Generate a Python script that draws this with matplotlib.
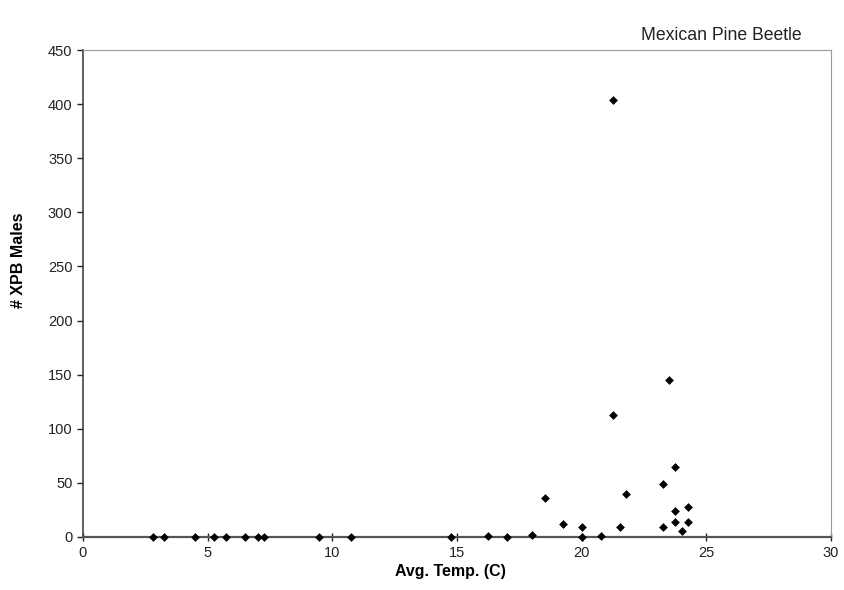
import matplotlib
matplotlib.use("Agg")
import matplotlib.pyplot as plt

plt.rcParams['font.family'] = ['Liberation Sans', 'DejaVu Sans']

# Data
avg_temp = [2.80, 3.24, 4.49, 5.24, 5.72, 6.48, 7.00, 7.24, 9.48, 10.75,
            14.75, 16.26, 17.00, 18.00, 18.51, 19.25, 20.00, 20.00, 20.77,
            21.25, 21.25, 21.52, 21.76, 23.27, 23.27, 23.51, 23.76, 23.76,
            23.76, 24.02, 24.26, 24.26]
xpb_males = [0, 0, 0, 0, 0, 0, 0, 0, 0, 0,
             0, 1, 0, 2, 36, 12, 9, 0, 1,
             404, 113, 9, 40, 49, 9, 145, 65, 24,
             14, 6, 28, 14]

x_ticks = [0, 5, 10, 15, 20, 25, 30]
y_ticks = [0, 50, 100, 150, 200, 250, 300, 350, 400, 450]

fig = plt.figure(figsize=(8.45, 5.90), dpi=100)
ax = fig.add_axes([83/845, 1 - 537/590, (831 - 83)/845, (537 - 50)/590])

ax.scatter(avg_temp, xpb_males, marker='D', s=20, color='black',
           linewidths=0, zorder=3, clip_on=False)

ax.set_xlim(0, 30)
ax.set_ylim(0, 450)
ax.set_xticks(x_ticks)
ax.set_yticks(y_ticks)
ax.tick_params(axis='both', labelsize=10.5, colors='#222222', length=4,
               width=1, direction='out')
ax.tick_params(axis='x', direction='inout', length=6)
for lbl in ax.get_xticklabels() + ax.get_yticklabels():
    lbl.set_color('#222222')

ax.spines['left'].set_color('#444444')
ax.spines['bottom'].set_color('#555555')
ax.spines['bottom'].set_linewidth(1.6)
ax.spines['left'].set_linewidth(1.2)
ax.spines['top'].set_color('#999999')
ax.spines['right'].set_color('#999999')

ax.set_xlabel('Avg. Temp. (C)', fontsize=11.5, fontweight='bold')
ax.xaxis.set_label_coords(0.4906, -0.055)
ax.xaxis.label.set_va('top')
ax.set_ylabel('# XPB Males', fontsize=11.5, fontweight='bold')
ax.yaxis.set_label_coords(-0.076, 0.569)

fig.text(802/845, 1 - 35/590, 'Mexican Pine Beetle', ha='right', va='center',
         fontsize=12.7, color='#222222')

fig.savefig('out.png', dpi=100)
